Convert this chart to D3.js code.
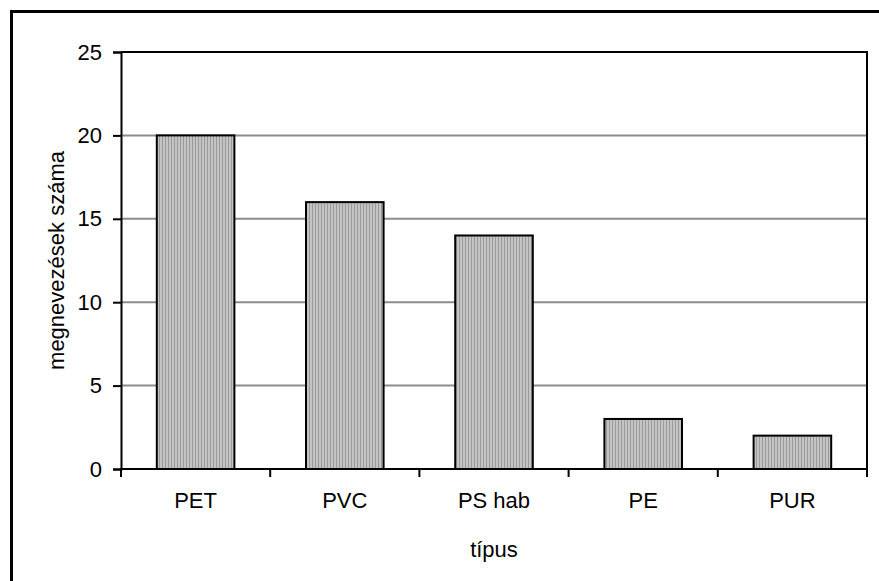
<!DOCTYPE html>
<html>
<head>
<meta charset="utf-8">
<script src="https://cdn.jsdelivr.net/npm/d3@7"></script>
<style>
  body { margin: 0; background: #fff; }
  svg { display: block; font-family: "Liberation Sans", Arial, sans-serif; }
</style>
</head>
<body>
<script>
var categories = ['PET', 'PVC', 'PS hab', 'PE', 'PUR'];
var values = [20, 16, 14, 3, 2];
var yTicks = [0, 5, 10, 15, 20, 25];
var xTitle = 'típus';
var yTitle = 'megnevezések száma';

var width = 879, height = 581;
var margin = { left: 121, right: 12, top: 52, bottom: 112 };
var fs = 22;

var svg = d3.select('body').append('svg')
  .attr('width', width).attr('height', height);

// striped fill for the bars
var defs = svg.append('defs');
var pat = defs.append('pattern').attr('id', 'stripes')
  .attr('patternUnits', 'userSpaceOnUse').attr('width', 3).attr('height', 4);
pat.append('rect').attr('width', 3).attr('height', 4).attr('fill', '#c4c4c4');
pat.append('rect').attr('width', 1).attr('height', 4).attr('fill', '#9a9a9a');

// outer frame (cut by the window on right and bottom)
svg.append('rect')
  .attr('x', 11.5).attr('y', 11.5).attr('width', 900).attr('height', 600)
  .attr('fill', 'none').attr('stroke', '#000').attr('stroke-width', 3);

var x = d3.scaleBand().domain(categories)
  .range([margin.left, width - margin.right]).paddingInner(0.48).paddingOuter(0.24);
var xEdges = d3.scaleLinear().domain([0, categories.length])
  .range([margin.left, width - margin.right]);
var y = d3.scaleLinear().domain([0, 25]).range([height - margin.bottom, margin.top]);

var g = svg.append('g');

// gridlines
g.selectAll('.grid').data(yTicks.filter(function (d) { return d > 0 && d < 25; }))
  .enter().append('line')
  .attr('x1', margin.left).attr('x2', width - margin.right)
  .attr('y1', function (d) { return y(d); }).attr('y2', function (d) { return y(d); })
  .attr('stroke', '#8c8c8c').attr('stroke-width', 2);

// plot frame top and right
g.append('path')
  .attr('d', 'M' + margin.left + ',' + y(25) + 'H' + (width - margin.right) + 'V' + y(0))
  .attr('fill', 'none').attr('stroke', '#000').attr('stroke-width', 2);

// bars
g.selectAll('.bar').data(values).enter().append('rect')
  .attr('x', function (d, i) { return x(categories[i]); })
  .attr('width', x.bandwidth())
  .attr('y', function (d) { return y(d); })
  .attr('height', function (d) { return y(0) - y(d); })
  .attr('fill', 'url(#stripes)').attr('stroke', '#000').attr('stroke-width', 2);

// y axis
var yAxis = d3.axisLeft(y).tickValues(yTicks).tickSize(8).tickPadding(11);
var ya = g.append('g').attr('transform', 'translate(' + margin.left + ',0)').call(yAxis);
ya.select('.domain').attr('stroke-width', 2);
ya.selectAll('.tick line').attr('stroke-width', 2);
ya.selectAll('.tick text').attr('font-size', fs).attr('fill', '#000')
  .attr('font-family', '"Liberation Sans", Arial, sans-serif');

// x axis
g.append('line')
  .attr('x1', margin.left - 1).attr('x2', width - margin.right + 1)
  .attr('y1', y(0)).attr('y2', y(0))
  .attr('stroke', '#000').attr('stroke-width', 2);
g.selectAll('.xtick').data(d3.range(categories.length + 1)).enter().append('line')
  .attr('x1', function (d) { return xEdges(d); }).attr('x2', function (d) { return xEdges(d); })
  .attr('y1', y(0)).attr('y2', y(0) + 8)
  .attr('stroke', '#000').attr('stroke-width', 2);
g.selectAll('.xlab').data(categories).enter().append('text')
  .attr('x', function (d) { return x(d) + x.bandwidth() / 2; })
  .attr('y', y(0) + 39)
  .attr('text-anchor', 'middle').attr('font-size', fs)
  .text(function (d) { return d; });

// titles
svg.append('text').attr('x', (margin.left + width - margin.right) / 2).attr('y', 557)
  .attr('text-anchor', 'middle').attr('font-size', fs).text(xTitle);
svg.append('text')
  .attr('transform', 'translate(64,' + ((y(0) + y(25)) / 2) + ') rotate(-90)')
  .attr('text-anchor', 'middle').attr('font-size', fs).text(yTitle);
</script>
</body>
</html>
